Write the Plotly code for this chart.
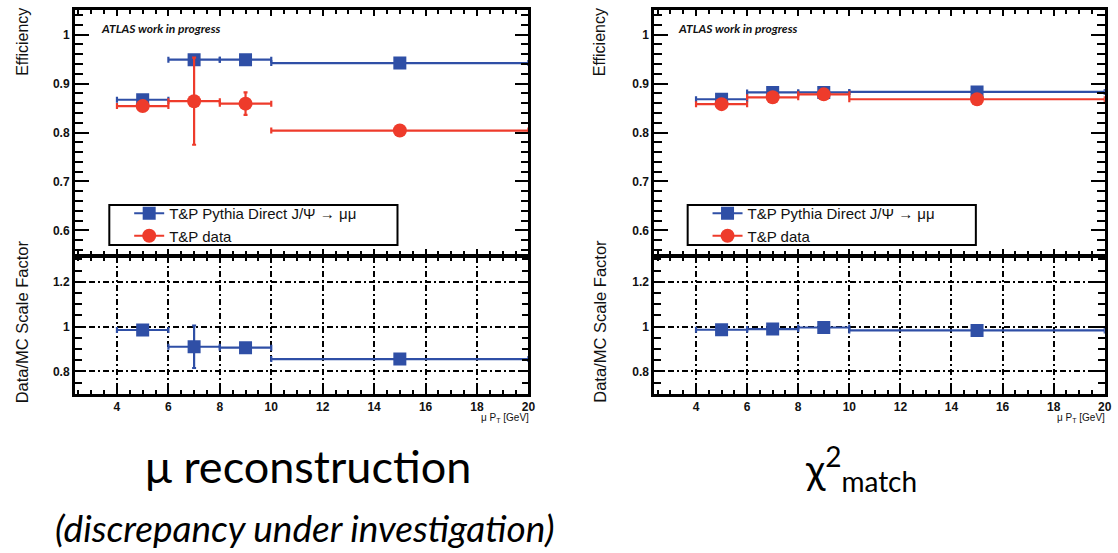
import plotly.graph_objects as go

# pT bins [GeV]: centres and half-widths
pt_centers = [5, 7, 9, 15]
pt_halfwidths = [1, 1, 1, 5]

# muon reconstruction efficiency
reco_mc_eff = [0.867, 0.949, 0.949, 0.942]
reco_mc_err = [0.0, 0.0, 0.0, 0.0]
reco_data_eff = [0.854, 0.864, 0.859, 0.804]
reco_data_err = [0.0, 0.089, 0.023, 0.0]
reco_sf = [0.985, 0.910, 0.906, 0.855]
reco_sf_err = [0.0, 0.095, 0.0, 0.0]

# chi2 matching efficiency
chi2_mc_eff = [0.868, 0.882, 0.882, 0.883]
chi2_mc_err = [0.0, 0.0, 0.0, 0.0]
chi2_data_eff = [0.858, 0.872, 0.878, 0.868]
chi2_data_err = [0.0, 0.0, 0.0, 0.0]
chi2_sf = [0.986, 0.989, 0.996, 0.983]
chi2_sf_err = [0.0, 0.0, 0.0, 0.0]

legend_labels = ["T&P Pythia Direct J/\u03a8 \u2192 \u03bc\u03bc", "T&P data"]

BLUE = "#2f4fa6"
RED = "#ee3b2b"
W, H = 1118, 553
AXFONT = "Liberation Sans, Arial, sans-serif"
CAPFONT = "Lato, Open Sans, sans-serif"
LW = 2.5


def px_x(p):
    return p / W


def px_y(p):
    return 1 - p / H


fig = go.Figure()


def add_series(xa, ya, y, err, color, symbol, size):
    fig.add_trace(go.Scatter(
        x=pt_centers, y=y, xaxis=xa, yaxis=ya, mode="markers",
        marker=dict(color=color, symbol=symbol, size=size, line=dict(width=0)),
        error_x=dict(type="data", array=pt_halfwidths, symmetric=True,
                     color=color, thickness=2.2, width=3),
        error_y=dict(type="data", array=err, symmetric=True,
                     color=color, thickness=2.2, width=2),
        showlegend=False, hoverinfo="x+y",
    ))


def add_legend_entry(name, color, symbol, size, legend):
    fig.add_trace(go.Scatter(
        x=[None], y=[None], mode="lines+markers", name=name,
        line=dict(color=color, width=2.2),
        marker=dict(color=color, symbol=symbol, size=size),
        legend=legend, showlegend=True,
    ))


# left: reconstruction
add_series("x", "y", reco_mc_eff, reco_mc_err, BLUE, "square", 13)
add_series("x", "y", reco_data_eff, reco_data_err, RED, "circle", 14)
add_series("x2", "y2", reco_sf, reco_sf_err, BLUE, "square", 13)
# right: chi2 match
add_series("x3", "y3", chi2_mc_eff, chi2_mc_err, BLUE, "square", 13)
add_series("x3", "y3", chi2_data_eff, chi2_data_err, RED, "circle", 14)
add_series("x4", "y4", chi2_sf, chi2_sf_err, BLUE, "square", 13)

add_legend_entry(legend_labels[0], BLUE, "square", 13, "legend")
add_legend_entry(legend_labels[1], RED, "circle", 14, "legend")
add_legend_entry(legend_labels[0], BLUE, "square", 13, "legend2")
add_legend_entry(legend_labels[1], RED, "circle", 14, "legend2")

# panel geometry (paper fractions); the shared edge sits at y = 256 px
left_dom = [px_x(74 + LW / 2), px_x(533 - LW / 2)]
right_dom = [px_x(657 + LW / 2), px_x(1113 - LW / 2)]
top_dom = [px_y(256 - LW / 2), px_y(9 + LW / 2)]
bot_dom = [px_y(395 - LW / 2), px_y(256 + LW / 2)]

xrange_ = [2.36, 20]
eff_range = [0.55, 1.05]
sf_range = [0.70, 1.31]

# fine tick positions along each axis
x_minor_vals = [k / 2 for k in range(5, 41)]
eff_minor_vals = [k / 100 for k in range(56, 106, 2)]
sf_minor_vals = [k / 100 for k in range(70, 131, 5)]

grid_dash = "6px,3px,2px,3px"
TICKFONT = dict(family=AXFONT, size=12, color="#111", weight="bold")


def xaxis(domain, anchor, labels, grid, tlen, mlen):
    return dict(
        domain=domain, anchor=anchor, range=xrange_, tickmode="linear", tick0=0, dtick=2,
        ticks="inside", ticklen=tlen, tickwidth=2, tickcolor="black",
        minor=dict(tickmode="array", tickvals=x_minor_vals, ticks="inside", ticklen=mlen,
                   tickwidth=2, tickcolor="black", showgrid=False),
        showline=True, linecolor="black", linewidth=LW, mirror="ticks",
        showticklabels=labels, showgrid=grid, gridcolor="black", gridwidth=1.6, griddash=grid_dash,
        zeroline=False, tickfont=TICKFONT,
    )


def yaxis(domain, anchor, rng, dtick, minor_vals, grid, tlen, mlen):
    return dict(
        domain=domain, anchor=anchor, range=rng, tickmode="linear", tick0=0, dtick=dtick,
        ticks="inside", ticklen=tlen, tickwidth=2, tickcolor="black",
        minor=dict(tickmode="array", tickvals=minor_vals, ticks="inside", ticklen=mlen,
                   tickwidth=2, tickcolor="black", showgrid=False),
        showline=True, linecolor="black", linewidth=LW, mirror="ticks",
        showticklabels=True, showgrid=grid, gridcolor="black", gridwidth=1.6, griddash=grid_dash,
        zeroline=False, tickfont=TICKFONT,
    )


legend_common = dict(
    xanchor="left", yanchor="top", borderwidth=0,
    bgcolor="rgba(0,0,0,0)", font=dict(family=AXFONT, size=15, color="#111"),
    itemwidth=30, tracegroupgap=0,
)

# legend frames around the entries
shapes = []
for x0 in (110, 692):
    shapes.append(dict(type="rect", xref="paper", yref="paper",
                       x0=px_x(x0), x1=px_x(x0 + 290), y0=px_y(245), y1=px_y(205),
                       line=dict(color="black", width=2), fillcolor="white", layer="below"))

fig.update_layout(
    width=W, height=H, margin=dict(l=0, r=0, t=0, b=0),
    paper_bgcolor="white", plot_bgcolor="rgba(0,0,0,0)",
    xaxis=xaxis(left_dom, "y", False, False, 6, 4),
    yaxis=yaxis(top_dom, "x", eff_range, 0.1, eff_minor_vals, False, 14, 8),
    xaxis2=xaxis(left_dom, "y2", True, True, 5, 4),
    yaxis2=yaxis(bot_dom, "x2", sf_range, 0.2, sf_minor_vals, True, 11, 7),
    xaxis3=xaxis(right_dom, "y3", False, False, 6, 4),
    yaxis3=yaxis(top_dom, "x3", eff_range, 0.1, eff_minor_vals, False, 14, 8),
    xaxis4=xaxis(right_dom, "y4", True, True, 5, 4),
    yaxis4=yaxis(bot_dom, "x4", sf_range, 0.2, sf_minor_vals, True, 11, 7),
    legend=dict(x=px_x(130), y=px_y(197), **legend_common),
    legend2=dict(x=px_x(712), y=px_y(197), **legend_common),
    shapes=shapes,
)

ann = []
for xl in (22, 603):
    ann.append(dict(text="Efficiency", x=px_x(xl), y=px_y(6), xref="paper", yref="paper",
                    xanchor="center", yanchor="top", textangle=-90, showarrow=False,
                    font=dict(family=AXFONT, size=16, color="#111")))
    ann.append(dict(text="Data/MC Scale Factor", x=px_x(xl), y=px_y(405), xref="paper", yref="paper",
                    xanchor="center", yanchor="bottom", textangle=-90, showarrow=False,
                    font=dict(family=AXFONT, size=16.5, color="#111")))
for xl in (100, 680):
    ann.append(dict(text="ATLAS work in progress", x=px_x(xl), y=px_y(29), xref="paper", yref="paper",
                    xanchor="left", yanchor="middle", showarrow=False,
                    font=dict(family=CAPFONT, size=12, color="#111", style="italic", weight="bold")))
for xr in (534, 1114):
    ann.append(dict(text="\u03bc P<sub>T</sub> [GeV]", x=px_x(xr), y=px_y(418), xref="paper", yref="paper",
                    xanchor="right", yanchor="middle", showarrow=False,
                    font=dict(family=AXFONT, size=10, color="#111")))

ann.append(dict(text="\u03bc reconstruction", x=px_x(310), y=px_y(466), xref="paper", yref="paper",
                xanchor="center", yanchor="middle", showarrow=False,
                font=dict(family=CAPFONT, size=45, color="black")))
ann.append(dict(text="(discrepancy under investigation)", x=px_x(307), y=px_y(527), xref="paper", yref="paper",
                xanchor="center", yanchor="middle", showarrow=False,
                font=dict(family=CAPFONT, size=37, color="black", style="italic")))
ann.append(dict(text="\u03c7<sup>2</sup><sub>match</sub>", x=px_x(866), y=px_y(468), xref="paper", yref="paper",
                xanchor="center", yanchor="middle", showarrow=False,
                font=dict(family=CAPFONT, size=40, color="black")))

fig.update_layout(annotations=ann)

fig.write_html("out.html")
